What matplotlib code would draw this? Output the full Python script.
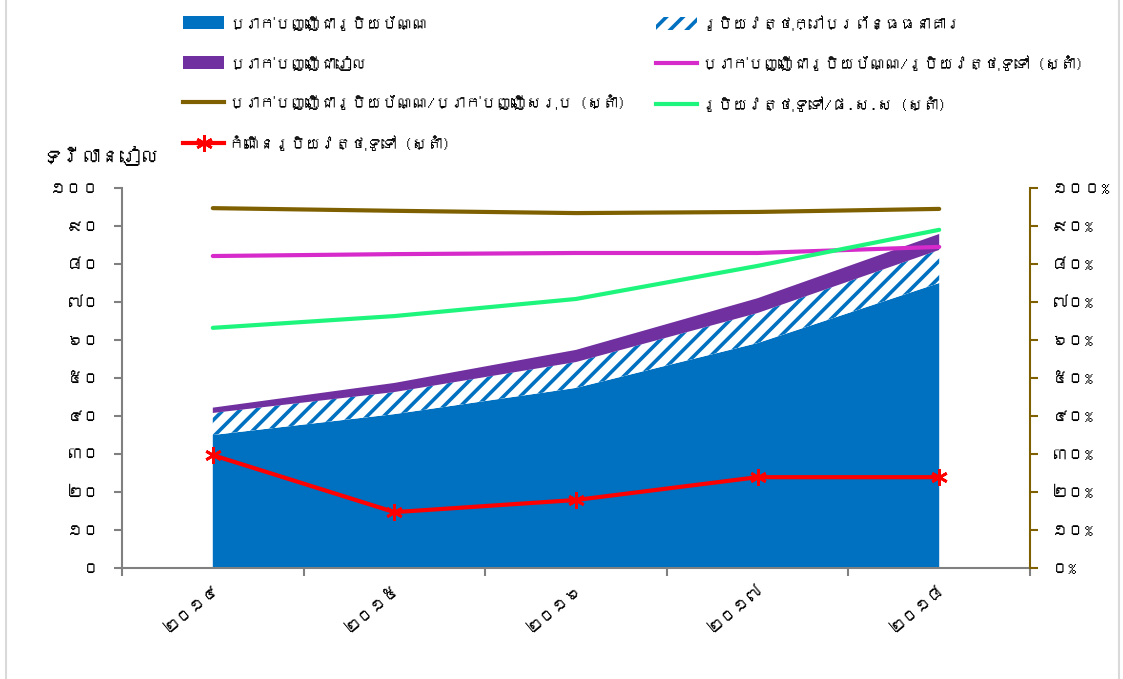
import numpy as np
import matplotlib
matplotlib.use("Agg")
import matplotlib.pyplot as plt
from matplotlib import font_manager
from matplotlib.ft2font import FT2Font
from matplotlib.patches import Patch
from matplotlib.lines import Line2D

# data
years = ["២០១៤", "២០១៥", "២០១៦", "២០១៧", "២០១៨"]
fx_deposits = [35.0, 40.5, 47.4, 59.2, 75.0]        # trillion riel
currency_outside = [5.8, 5.8, 6.8, 7.9, 8.7]
riel_deposits = [1.4, 2.4, 3.2, 3.9, 4.2]

fx_share_total = [0.947, 0.940, 0.934, 0.937, 0.945]
fx_share_money = [0.821, 0.826, 0.829, 0.829, 0.845]
money_to_gdp = [0.632, 0.663, 0.708, 0.795, 0.890]
money_growth = [0.297, 0.147, 0.179, 0.239, 0.239]

left_ticks = ["០", "១០", "២០", "៣០", "៤០", "៥០", "៦០", "៧០", "៨០", "៩០", "១០០"]
right_ticks = ["០%", "១០%", "២០%", "៣០%", "៤០%", "៥០%", "៦០%", "៧០%", "៨០%", "៩០%", "១០០%"]

labels = {
    "fx": "ប្រាក់បញ្ញើជារូបិយប័ណ្ណ",
    "riel": "ប្រាក់បញ្ញើជារៀល",
    "share_total": "ប្រាក់បញ្ញើជារូបិយប័ណ្ណ/ប្រាក់បញ្ញើសរុប (ស្តាំ)",
    "growth": "កំណើនរូបិយវត្ថុទូទៅ (ស្តាំ)",
    "outside": "រូបិយវត្ថុក្រៅប្រព័ន្ធធនាគារ",
    "share_money": "ប្រាក់បញ្ញើជារូបិយប័ណ្ណ/រូបិយវត្ថុទូទៅ (ស្តាំ)",
    "gdp": "រូបិយវត្ថុទូទៅ/ផ.ស.ស (ស្តាំ)",
}
ylabel = "ទ្រីលានរៀល"

BLUE = "#0070C0"
PURPLE = "#7030A0"
BROWN = "#7F6000"
MAGENTA = "#D62ACB"
GREEN = "#1EF57D"
RED = "#FF0000"
GRAY = "#808080"


def find_khmer_font():
    """Look for any installed font that covers the Khmer block."""
    for f in font_manager.fontManager.ttflist:
        try:
            if 0x1780 in FT2Font(f.fname).get_charmap():
                return f.name
        except Exception:
            pass
    return None


kh = find_khmer_font()
plt.rcParams["font.family"] = [kh, "DejaVu Sans"] if kh else ["DejaVu Sans"]
plt.rcParams["hatch.linewidth"] = 2.6

fig = plt.figure(figsize=(11.23, 6.79), dpi=100)
ax = fig.add_axes([122 / 1123, 111 / 679, 908 / 1123, 380 / 679])
ax2 = ax.twinx()

x = np.arange(len(years))
fx = np.array(fx_deposits)
hatch_top = fx + np.array(currency_outside)
total = hatch_top + np.array(riel_deposits)

ax.fill_between(x, 0, fx, facecolor=BLUE, linewidth=0)
ax.fill_between(x, fx, hatch_top, facecolor="white", edgecolor=BLUE,
                hatch="//", linewidth=0)
ax.fill_between(x, hatch_top, total, facecolor=PURPLE, linewidth=0)

ax2.plot(x, fx_share_total, color=BROWN, lw=3, solid_capstyle="round")
ax2.plot(x, fx_share_money, color=MAGENTA, lw=3, solid_capstyle="round")
ax2.plot(x, money_to_gdp, color=GREEN, lw=3, solid_capstyle="round")
ax2.plot(x, money_growth, color=RED, lw=3, marker=(6, 2, 0), ms=12,
         mew=2, mec=RED)

ax.set_xlim(-0.5, len(years) - 0.5)
ax.set_ylim(0, 100)
ax2.set_ylim(0, 1)

ax.set_yticks(np.arange(0, 101, 10))
ax.set_yticklabels(left_ticks, fontsize=12)
ax2.set_yticks(np.linspace(0, 1, 11))
ax2.set_yticklabels(right_ticks, fontsize=12)

ax.set_xticks(x)
ax.set_xticklabels(years, fontsize=12, rotation=40, ha="right",
                   rotation_mode="anchor")
ax.set_xticks(np.arange(-0.5, len(years), 1), minor=True)
ax.tick_params(axis="x", which="major", length=0, pad=10)
ax.tick_params(axis="x", which="minor", length=6, width=1.5, color=GRAY)
ax.tick_params(axis="y", length=6, width=1.5, color=GRAY, pad=10)
ax2.tick_params(axis="y", length=6, width=1.5, color=BROWN, pad=10)

for a in (ax, ax2):
    a.spines["top"].set_visible(False)
ax.spines["right"].set_visible(False)
ax2.spines["left"].set_visible(False)
ax2.spines["bottom"].set_visible(False)
ax.spines["left"].set_color(GRAY)
ax.spines["bottom"].set_color(GRAY)
ax.spines["left"].set_linewidth(1.5)
ax.spines["bottom"].set_linewidth(1.5)
ax2.spines["right"].set_color(BROWN)
ax2.spines["right"].set_linewidth(1.5)

fig.text(42 / 1123, 1 - 155 / 679, ylabel, fontsize=14, va="center", ha="left")

# legends, two columns placed by hand
h_fx = Patch(facecolor=BLUE, linewidth=0)
h_riel = Patch(facecolor=PURPLE, linewidth=0)
h_out = Patch(facecolor="white", edgecolor=BLUE, hatch="//", linewidth=0)
h_st = Line2D([], [], color=BROWN, lw=3)
h_sm = Line2D([], [], color=MAGENTA, lw=3)
h_gdp = Line2D([], [], color=GREEN, lw=3)
h_gr = Line2D([], [], color=RED, lw=3, marker=(6, 2, 0), ms=12, mew=2)

common = dict(frameon=False, fontsize=11, loc="upper left", borderpad=0,
              handlelength=2.7, handleheight=0.9, handletextpad=0.3,
              labelspacing=1.62, borderaxespad=0)
fig.legend([h_fx, h_riel, h_st, h_gr],
           [labels["fx"], labels["riel"], labels["share_total"], labels["growth"]],
           bbox_to_anchor=(183 / 1123, 1 - 15 / 679), **common)
fig.legend([h_out, h_sm, h_gdp],
           [labels["outside"], labels["share_money"], labels["gdp"]],
           bbox_to_anchor=(656 / 1123, 1 - 15 / 679), **common)

# light frame at the sides
fig.add_artist(Line2D([6 / 1123, 6 / 1123], [0, 1], color="#D9D9D9", lw=1.5))
fig.add_artist(Line2D([1119 / 1123, 1119 / 1123], [0, 1], color="#D9D9D9", lw=1.5))

fig.savefig("out.png", dpi=100)
